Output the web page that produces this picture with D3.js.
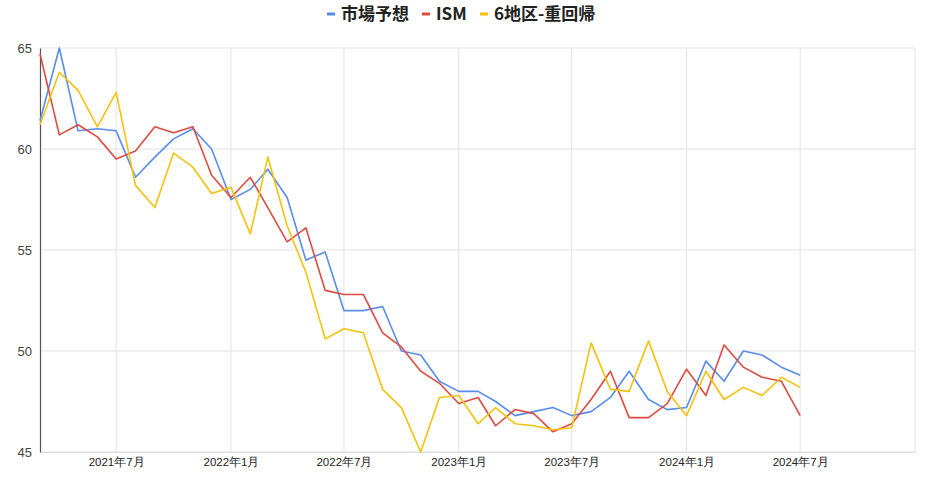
<!DOCTYPE html>
<html lang="ja">
  <head>
    <meta charset="utf-8" />
    <title>市場予想 / ISM / 6地区-重回帰</title>
    <script type="text/javascript" src="https://cdn.jsdelivr.net/npm/d3@7"></script>
    <style type="text/css">
      body { margin: 0; background: #fff; }
      svg { display: block; font-family: Roboto, "Noto Sans CJK JP", sans-serif; }
    </style>
  </head>

  <body>
    <script type="text/javascript">
      // 月次データ（2021年3月〜2024年7月）
      const startMonth = "2021-03";
      const seriesNames = ["市場予想", "ISM", "6地区-重回帰"];
      const seriesColors = ["#588cec", "#df4a40", "#f4c20d"];

      const forecast = [
        61.4, 65.0, 60.9, 61.0, 60.9, 58.6, 59.6, 60.5, 61.0, 60.0,
        57.5, 58.0, 59.0, 57.6, 54.5, 54.9, 52.0, 52.0, 52.2, 50.0,
        49.8, 48.5, 48.0, 48.0, 47.5, 46.8, 47.0, 47.2, 46.8, 47.0,
        47.7, 49.0, 47.6, 47.1, 47.2, 49.5, 48.5, 50.0, 49.8, 49.2,
        48.8
      ];
      const ism = [
        64.7, 60.7, 61.2, 60.6, 59.5, 59.9, 61.1, 60.8, 61.1, 58.7,
        57.6, 58.6, 57.1, 55.4, 56.1, 53.0, 52.8, 52.8, 50.9, 50.2,
        49.0, 48.4, 47.4, 47.7, 46.3, 47.1, 46.9, 46.0, 46.4, 47.6,
        49.0, 46.7, 46.7, 47.4, 49.1, 47.8, 50.3, 49.2, 48.7, 48.5,
        46.8
      ];
      const regional = [
        61.2, 63.8, 62.9, 61.1, 62.8, 58.2, 57.1, 59.8, 59.1, 57.8,
        58.1, 55.8, 59.6, 56.2, 53.9, 50.6, 51.1, 50.9, 48.1, 47.2,
        45.0, 47.7, 47.8, 46.4, 47.2, 46.4, 46.3, 46.1, 46.2, 50.4,
        48.1, 48.0, 50.5, 48.0, 46.8, 49.0, 47.6, 48.2, 47.8, 48.7,
        48.2
      ];
      const xTicks = ["2021-07", "2022-01", "2022-07", "2023-01", "2023-07", "2024-01", "2024-07"];
      const yTicks = [45, 50, 55, 60, 65];

      const width = 930;
      const height = 486;
      const margin = { top: 48, right: 15, bottom: 34, left: 40 };

      const parseMonth = d3.timeParse("%Y-%m");
      const start = parseMonth(startMonth);
      const dates = forecast.map((d, i) => d3.timeMonth.offset(start, i));
      const allSeries = [forecast, ism, regional];

      const svg = d3
        .select("body")
        .append("svg")
        .attr("width", width)
        .attr("height", height);

      const x = d3
        .scaleTime()
        .domain([start, parseMonth("2025-01")])
        .range([margin.left, width - margin.right]);

      const y = d3
        .scaleLinear()
        .domain([45, 65])
        .range([height - margin.bottom, margin.top]);

      const tickDates = xTicks.map(parseMonth);

      // グリッド
      svg
        .append("g")
        .selectAll("line")
        .data(yTicks)
        .enter()
        .append("line")
        .attr("x1", margin.left)
        .attr("x2", width - margin.right)
        .attr("y1", (d) => y(d))
        .attr("y2", (d) => y(d))
        .attr("stroke", "#e3e3e3")
        .attr("stroke-width", 1);

      svg
        .append("g")
        .selectAll("line")
        .data(tickDates.concat([parseMonth("2025-01")]))
        .enter()
        .append("line")
        .attr("x1", (d) => x(d))
        .attr("x2", (d) => x(d))
        .attr("y1", margin.top)
        .attr("y2", height - margin.bottom)
        .attr("stroke", "#e3e3e3")
        .attr("stroke-width", 1);

      // 軸
      const xAxis = svg
        .append("g")
        .attr("transform", `translate(0,${height - margin.bottom})`)
        .call(
          d3
            .axisBottom(x)
            .tickValues(tickDates)
            .tickSize(0)
            .tickPadding(6)
            .tickFormat(d3.timeFormat("%Y年%-m月"))
        );
      xAxis.select(".domain").attr("stroke", "#dcdcdc");
      xAxis.selectAll("text").attr("font-size", 11.5).attr("fill", "#222");

      const yAxis = svg
        .append("g")
        .attr("transform", `translate(${margin.left},0)`)
        .call(d3.axisLeft(y).tickValues(yTicks).tickSize(0).tickPadding(8));
      yAxis.select(".domain").attr("stroke", "#555").attr("stroke-width", 1.2);
      yAxis.selectAll("text").attr("font-size", 13).attr("fill", "#444");

      // 折れ線
      const line = d3
        .line()
        .x((d, i) => x(dates[i]))
        .y((d) => y(d));

      svg
        .append("g")
        .selectAll("path")
        .data(allSeries)
        .enter()
        .append("path")
        .attr("d", (d) => line(d))
        .attr("fill", "none")
        .attr("stroke", (d, i) => seriesColors[i])
        .attr("stroke-width", 1.6)
        .attr("stroke-linejoin", "round");

      // 凡例
      const legendX = [327, 422, 480];
      const legend = svg
        .append("g")
        .selectAll("g")
        .data(seriesNames)
        .enter()
        .append("g")
        .attr("transform", (d, i) => `translate(${legendX[i]},14)`);

      legend
        .append("line")
        .attr("x1", 0)
        .attr("x2", 8)
        .attr("stroke", (d, i) => seriesColors[i])
        .attr("stroke-width", 3);

      legend
        .append("text")
        .attr("x", 14)
        .attr("dy", "0.36em")
        .attr("font-size", 17)
        .attr("font-family", "'Noto Sans CJK JP', sans-serif")
        .attr("font-weight", "bold")
        .attr("fill", "#222")
        .text((d) => d);
    </script>
  </body>
</html>
